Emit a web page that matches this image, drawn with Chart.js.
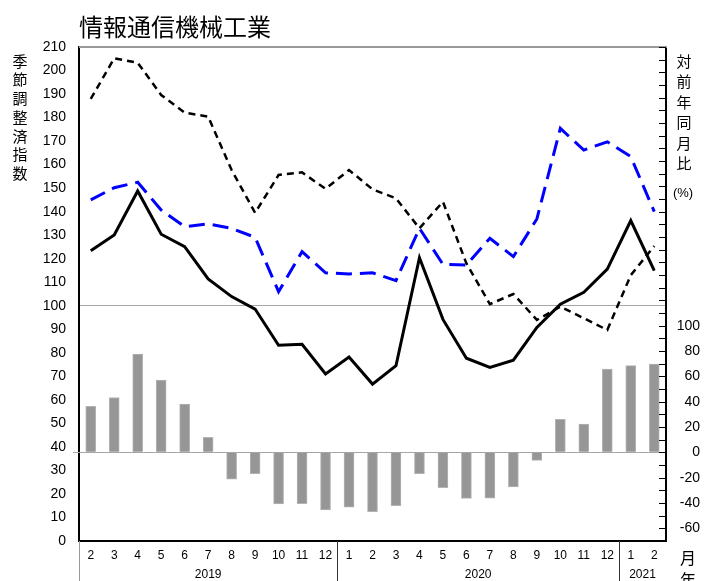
<!DOCTYPE html>
<html>
<head>
<meta charset="utf-8">
<script src="https://cdn.jsdelivr.net/npm/chart.js@4/dist/chart.umd.min.js"></script>
<style>
  html, body { margin: 0; padding: 0; background: #fff; }
  #wrap { width: 714px; height: 581px; position: relative; }
</style>
</head>
<body>
<div id="wrap"><canvas id="chart" width="714" height="581"></canvas></div>
<script>
// 2019/2 - 2021/2
const months = ["2","3","4","5","6","7","8","9","10","11","12",
                "1","2","3","4","5","6","7","8","9","10","11","12",
                "1","2"];
const years = [2019,2019,2019,2019,2019,2019,2019,2019,2019,2019,2019,
               2020,2020,2020,2020,2020,2020,2020,2020,2020,2020,2020,2020,
               2021,2021];

// 季節調整済指数 (left axis)
const indexSolid = [123.4,130.1,148.8,130.4,125.1,111.4,103.9,98.6,83.2,83.6,71.0,
                    78.2,66.7,74.5,120.4,94.2,77.7,73.8,76.9,90.8,100.7,105.7,115.6,
                    136.2,114.9];
const indexBlue = [145.0,150.2,152.5,140.7,133.6,134.8,132.9,129.1,106.0,123.0,114.0,
                   113.5,114.0,110.7,132.9,117.6,117.3,128.7,120.9,136.9,175.4,166.2,169.7,
                   163.4,140.0];
const indexDash = [187.9,205.2,203.3,189.6,182.1,180.4,157.7,139.5,155.6,156.7,149.7,
                   157.7,149.5,145.7,132.9,144.2,118.0,100.7,105.0,94.0,99.6,94.7,89.7,
                   113.0,125.4];

// 対前年同月比 (right axis, %)
const yoyBars = [36.3,43.3,77.6,57.0,38.1,11.8,-21.1,-16.9,-40.8,-40.6,-45.5,
                 -43.2,-46.9,-42.1,-16.9,-27.9,-36.3,-36.1,-27.4,-6.3,26.0,22.3,65.8,
                 68.4,69.7];

const titleText = "情報通信機械工業";
const leftTitle = "季節調整済指数";
const rightTitle = "対前年同月比";

const NUM_FONT = "'Liberation Sans', Arial, sans-serif";
const JP_FONT = "'Noto Sans CJK JP', sans-serif";

const decor = {
    id: "decor",
    beforeDatasetsDraw(chart) {
        const { ctx, chartArea: a, scales } = chart;
        const y0 = Math.round(scales.y1.getPixelForValue(0)) + 0.5;
        ctx.save();
        ctx.strokeStyle = "#a6a6a6";
        ctx.lineWidth = 1;
        ctx.beginPath();
        ctx.moveTo(a.left - 6, y0);
        ctx.lineTo(a.right, y0);
        ctx.stroke();
        ctx.restore();
    },
    afterDraw(chart) {
        const { ctx, chartArea: a, scales } = chart;
        const x = scales.x, y1 = scales.y1;
        ctx.save();

        // top frame
        ctx.strokeStyle = "#999";
        ctx.lineWidth = 2;
        ctx.beginPath();
        ctx.moveTo(a.left, a.top);
        ctx.lineTo(a.right + 1, a.top);
        ctx.stroke();

        // inward ticks on right axis
        ctx.strokeStyle = "#000";
        ctx.lineWidth = 1;
        y1.ticks.forEach(t => {
            const py = Math.round(y1.getPixelForValue(t.value)) + 0.5;
            ctx.beginPath();
            ctx.moveTo(a.right - 7, py);
            ctx.lineTo(a.right, py);
            ctx.stroke();
        });

        // year groups under the axis
        const bounds = [];
        for (let i = 1; i < years.length; i++) {
            if (years[i] !== years[i - 1]) {
                bounds.push({ i, px: (x.getPixelForValue(i - 1) + x.getPixelForValue(i)) / 2 });
            }
        }
        ctx.strokeStyle = "#999";
        ctx.beginPath();
        ctx.moveTo(a.left + 0.5, a.bottom);
        ctx.lineTo(a.left + 0.5, chart.height);
        ctx.stroke();
        ctx.strokeStyle = "#333";
        bounds.forEach(b => {
            const px = Math.round(b.px) + 0.5;
            ctx.beginPath();
            ctx.moveTo(px, a.bottom);
            ctx.lineTo(px, chart.height);
            ctx.stroke();
        });
        const edges = [a.left].concat(bounds.map(b => b.px), [a.right]);
        const groupYears = [years[0]].concat(bounds.map(b => years[b.i]));
        ctx.fillStyle = "#000";
        ctx.font = "12px " + NUM_FONT;
        ctx.textAlign = "center";
        ctx.textBaseline = "middle";
        groupYears.forEach((yr, k) => {
            ctx.fillText(String(yr), (edges[k] + edges[k + 1]) / 2, 575);
        });

        // title
        ctx.font = "24px " + JP_FONT;
        ctx.textAlign = "left";
        ctx.fillText(titleText, 79, 27);

        // vertical axis titles
        ctx.font = "15px " + JP_FONT;
        ctx.textAlign = "center";
        [...leftTitle].forEach((ch, i) => ctx.fillText(ch, 20, 61 + i * 18.7));
        [...rightTitle].forEach((ch, i) => ctx.fillText(ch, 684, 61 + i * 20.5));
        ctx.font = "13px " + NUM_FONT;
        ctx.fillText("(%)", 683, 193);
        ctx.font = "16px " + JP_FONT;
        ctx.fillText("月", 688, 558);
        ctx.fillText("年", 688, 580);

        ctx.restore();
    }
};

safeChart();

function safeChart() {
    const el = document.getElementById("chart");
    new Chart(el, {
        type: "bar",
        data: {
            labels: months,
            datasets: [{
                type: "line",
                data: indexSolid,
                yAxisID: "y",
                borderColor: "#000",
                borderWidth: 3,
                pointRadius: 0,
                tension: 0,
                order: 1
            }, {
                type: "line",
                data: indexDash,
                yAxisID: "y",
                borderColor: "#000",
                borderWidth: 2.5,
                borderDash: [7, 5],
                pointRadius: 0,
                tension: 0,
                order: 2
            }, {
                type: "line",
                data: indexBlue,
                yAxisID: "y",
                borderColor: "#0000ff",
                borderWidth: 3,
                borderDash: [16, 8],
                pointRadius: 0,
                tension: 0,
                order: 3
            }, {
                type: "bar",
                data: yoyBars,
                yAxisID: "y1",
                backgroundColor: "#969696",
                borderColor: "#b4b4b4",
                borderWidth: 1,
                barThickness: 10,
                order: 10
            }]
        },
        options: {
            responsive: false,
            animation: false,
            layout: { padding: { top: 47, right: 14, left: 0, bottom: 0 } },
            plugins: {
                legend: { display: false },
                tooltip: { enabled: false }
            },
            scales: {
                x: {
                    offset: true,
                    grid: { display: false, drawTicks: false },
                    border: { display: true, color: "#000", width: 2 },
                    ticks: {
                        color: "#000",
                        font: { family: NUM_FONT, size: 12 },
                        padding: 7,
                        maxRotation: 0,
                        autoSkip: false
                    },
                    afterFit(s) { s.height = 40; }
                },
                y: {
                    position: "left",
                    min: 0,
                    max: 210,
                    grid: {
                        drawTicks: false,
                        color: c => (c.tick && c.tick.value === 100) ? "#a6a6a6" : "rgba(0,0,0,0)",
                        lineWidth: 1
                    },
                    border: { display: true, color: "#000", width: 2 },
                    ticks: {
                        stepSize: 10,
                        color: "#000",
                        font: { family: NUM_FONT, size: 14 },
                        padding: 13,
                        autoSkip: false
                    },
                    afterFit(s) { s.width = 79; }
                },
                y1: {
                    position: "right",
                    min: -70,
                    max: 320,
                    grid: { drawOnChartArea: false, drawTicks: false },
                    border: { display: true, color: "#000", width: 2 },
                    ticks: {
                        stepSize: 10,
                        color: "#000",
                        font: { family: NUM_FONT, size: 14 },
                        crossAlign: "far",
                        autoSkip: false,
                        callback: v => (v >= -60 && v <= 100 && v % 20 === 0) ? String(v) : ""
                    },
                    afterFit(s) { s.width = 34; }
                }
            }
        },
        plugins: [decor]
    });
}
</script>
</body>
</html>
